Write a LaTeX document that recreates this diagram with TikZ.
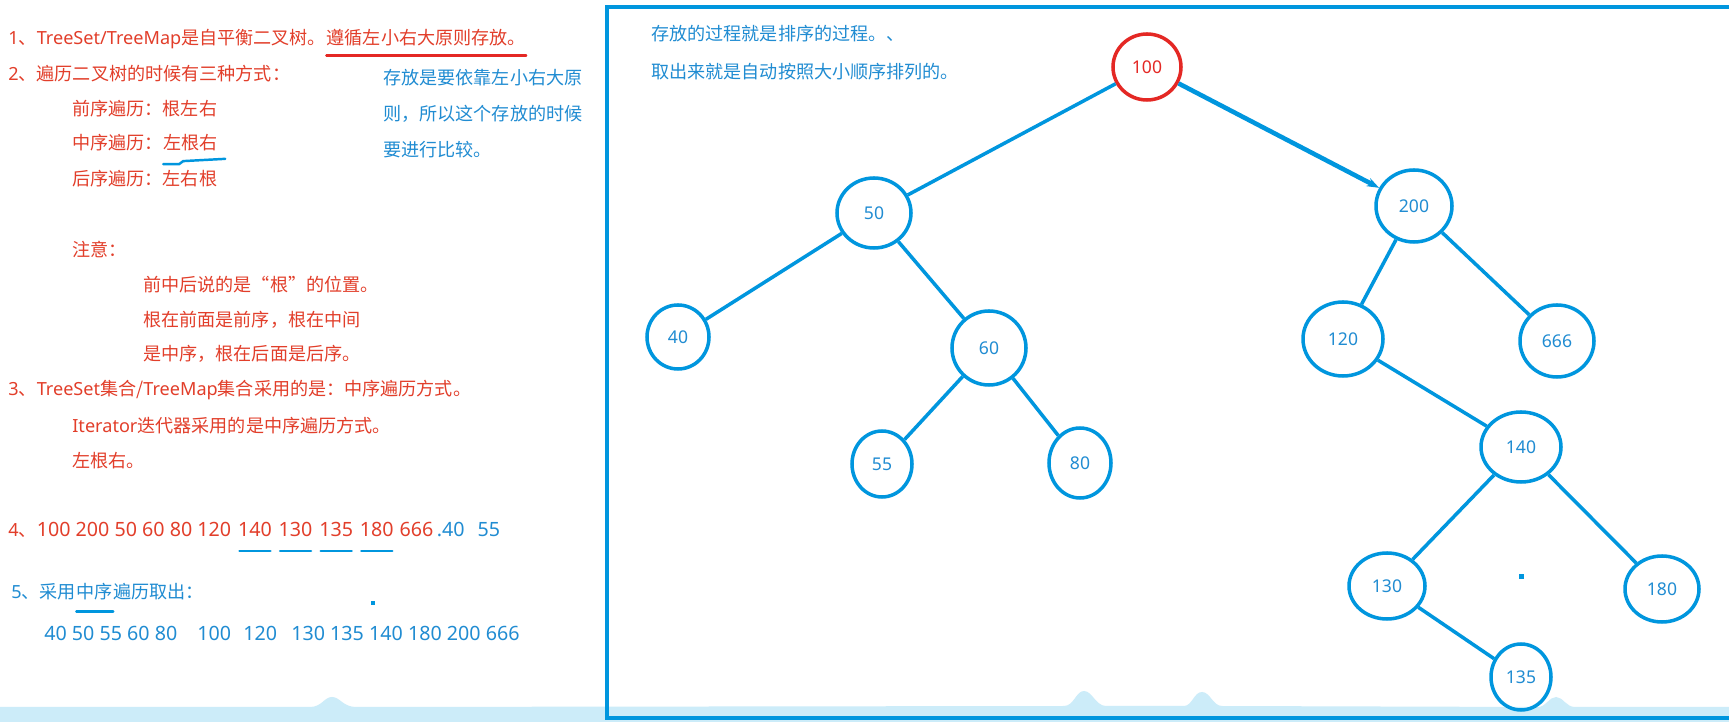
\documentclass[tikz,border=0pt]{standalone}
\usepackage{fontspec}
\newfontfamily\cjk{Noto Sans CJK SC}
\newfontfamily\lat{Noto Sans}
\newcommand\digs{\lat\fontsize{11.2}{12}\selectfont}
\usepackage{xcolor}
\usepackage{tikz}
\usetikzlibrary{arrows.meta,positioning,shapes.geometric}

\definecolor{notered}{RGB}{226,62,42}
\definecolor{noteblue}{RGB}{32,140,210}
\definecolor{treeblue}{RGB}{0,150,222}
\definecolor{rootred}{RGB}{228,40,36}
\definecolor{wave}{RGB}{204,236,249}

\begin{document}
\begin{tikzpicture}[x=0.02cm,y=-0.02cm,>=Stealth,
  txt/.style={anchor=west,inner sep=0pt,text height=8.5pt,text depth=2pt,
              font=\cjk\fontsize{10.3}{12}\selectfont},
  redtxt/.style={txt,text=notered},
  bluetxt/.style={txt,text=noteblue},
  tnode/.style 2 args={ellipse,draw=treeblue,line width=2pt,inner sep=0pt,
              minimum width=#1*0.02cm,minimum height=#2*0.02cm,text=noteblue,
              font=\lat\fontsize{10}{12}\selectfont},
  edge/.style={treeblue,line width=2pt},
  uline/.style={line width=1.4pt,line cap=round}]

  \useasboundingbox (0,0) rectangle (1729,722);
  \fill[white] (0,0) rectangle (1729,722);

  % wave strip at the bottom
  \fill[wave] (0,722) -- (0,707) -- (310,707)
      .. controls (322,707) and (324,697) .. (332,697)
      .. controls (340,697) and (343,707) .. (356,707) -- (1064,706)
      .. controls (1074,706) and (1076,691) .. (1084,691)
      .. controls (1092,691) and (1096,706) .. (1106,706) -- (1184,706)
      .. controls (1192,706) and (1194,692) .. (1202,692)
      .. controls (1210,692) and (1213,706) .. (1222,706) -- (1538,707)
      .. controls (1546,707) and (1549,697) .. (1556,697)
      .. controls (1563,697) and (1566,707) .. (1575,707) -- (1729,707)
      -- (1729,722) -- cycle;

  % frame round the tree
  \draw[treeblue,line width=2.2pt] (1740,7) -- (607,7) -- (607,718) -- (1740,718);

  % notes on the left
  \node[redtxt] (l1a) at (8,39) {{\lat 1}、{\lat TreeSet/TreeMap}是自平衡二叉树。};
  \node[redtxt,right=0pt of l1a] (l1b) {遵循左小右大原则存放。};
  \draw[uline,rootred] ([yshift=-4pt]l1b.south west) -- ([yshift=-4pt]l1b.south east);
  \node[redtxt] (l2) at (8,75) {{\lat 2}、遍历二叉树的时候有三种方式：};
  \node[redtxt] (pre) at (72,110) {前序遍历：根左右};
  \node[redtxt] (ina) at (72,144) {中序遍历：};
  \node[redtxt,right=0pt of ina] (inb) {左根右};
  \draw[uline,treeblue] ([yshift=-6pt]inb.south west) -- ++(16,0) -- ++(4,-3)
      -- ([yshift=-3pt,xshift=4pt]inb.south east);
  \node[redtxt] (post) at (72,180) {后序遍历：左右根};
  \node[redtxt] (att) at (72,251) {注意：};
  \node[redtxt] (att1) at (143,286) {前中后说的是“根”的位置。};
  \node[redtxt] (att2) at (143,321) {根在前面是前序，根在中间};
  \node[redtxt] (att3) at (143,355) {是中序，根在后面是后序。};
  \node[redtxt] (l3) at (8,390) {{\lat 3}、{\lat TreeSet}集合/{\lat TreeMap}集合采用的是：中序遍历方式。};
  \node[redtxt] (l3a) at (72,427) {{\lat Iterator}迭代器采用的是中序遍历方式。};
  \node[redtxt] (l3b) at (72,462) {左根右。};

  \node[redtxt] (l4a) at (8,531) {{\lat 4}、{\digs 100 200 50 60 80 120}};
  \node[redtxt,right=3.5pt of l4a] (l4b) {\digs 140};
  \node[redtxt,right=3.5pt of l4b] (l4c) {\digs 130};
  \node[redtxt,right=3.5pt of l4c] (l4d) {\digs 135};
  \node[redtxt,right=3.5pt of l4d] (l4e) {\digs 180};
  \node[redtxt,right=3pt of l4e] (l4f) {\digs 666};
  \node[bluetxt,right=1.5pt of l4f] (l4g) {\digs .40};
  \node[bluetxt,right=7pt of l4g] (l4h) {\digs 55};
  \foreach \n in {l4b,l4c,l4d,l4e}
    \draw[uline,treeblue] ([yshift=-6pt,xshift=1pt]\n.south west) -- ([yshift=-6pt,xshift=-1pt]\n.south east);

  \node[bluetxt] (l5a) at (11,593) {{\lat 5}、采用};
  \node[bluetxt,right=0pt of l5a] (l5b) {中序};
  \node[bluetxt,right=0pt of l5b] (l5c) {遍历取出：};
  \draw[uline,treeblue] ([yshift=-5pt]l5b.south west) -- ([yshift=-5pt]l5b.south east);
  \node[bluetxt] (l6a) at (44,635) {\digs 40 50 55 60 80};
  \node[bluetxt] (l6b) at (197,635) {\digs 100};
  \node[bluetxt] (l6c) at (243,635) {\digs 120};
  \node[bluetxt] (l6d) at (291,635) {\digs 130 135 140 180 200 666};
  \fill[treeblue] (371,601) rectangle (375,605);

  \node[bluetxt] (why1) at (383,79) {存放是要依靠左小右大原};
  \node[bluetxt] (why2) at (383,115) {则，所以这个存放的时候};
  \node[bluetxt] (why3) at (383,151) {要进行比较。};

  \node[bluetxt] (box1) at (651,35) {存放的过程就是排序的过程。、};
  \node[bluetxt] (box2) at (651,73) {取出来就是自动按照大小顺序排列的。};

  % the tree
  \node[tnode={68}{66},draw=rootred,text=rootred] (n100) at (1147,67) {100};
  \node[tnode={74}{70}] (n50)  at (874,213)  {50};
  \node[tnode={76}{72}] (n200) at (1414,206) {200};
  \node[tnode={62}{64}] (n40)  at (678,337)  {40};
  \node[tnode={74}{74}] (n60)  at (989,348)  {60};
  \node[tnode={80}{74}] (n120) at (1343,339) {120};
  \node[tnode={74}{72}] (n666) at (1557,341) {666};
  \node[tnode={60}{66}] (n55)  at (882,464)  {55};
  \node[tnode={62}{70}] (n80)  at (1080,463) {80};
  \node[tnode={80}{70}] (n140) at (1521,447) {140};
  \node[tnode={76}{66}] (n130) at (1387,586) {130};
  \node[tnode={74}{66}] (n180) at (1662,589) {180};
  \node[tnode={60}{66}] (n135) at (1521,677) {135};

  \draw[edge] (n100) -- (n50);
  \draw[edge,line width=2.6pt,-{Stealth[length=7pt,width=5pt]}] (n100) -- (n200);
  \draw[edge] (n50) -- (n40);
  \draw[edge] (n50) -- (n60);
  \draw[edge] (n60) -- (n55);
  \draw[edge] (n60) -- (n80);
  \draw[edge] (n200) -- (n120);
  \draw[edge] (n200) -- (n666);
  \draw[edge] (n120) -- (n140);
  \draw[edge] (n140) -- (n130);
  \draw[edge] (n140) -- (n180);
  \draw[edge] (n130) -- (n135);
  \fill[treeblue] (1519,574) rectangle (1524,579);
\end{tikzpicture}
\end{document}
